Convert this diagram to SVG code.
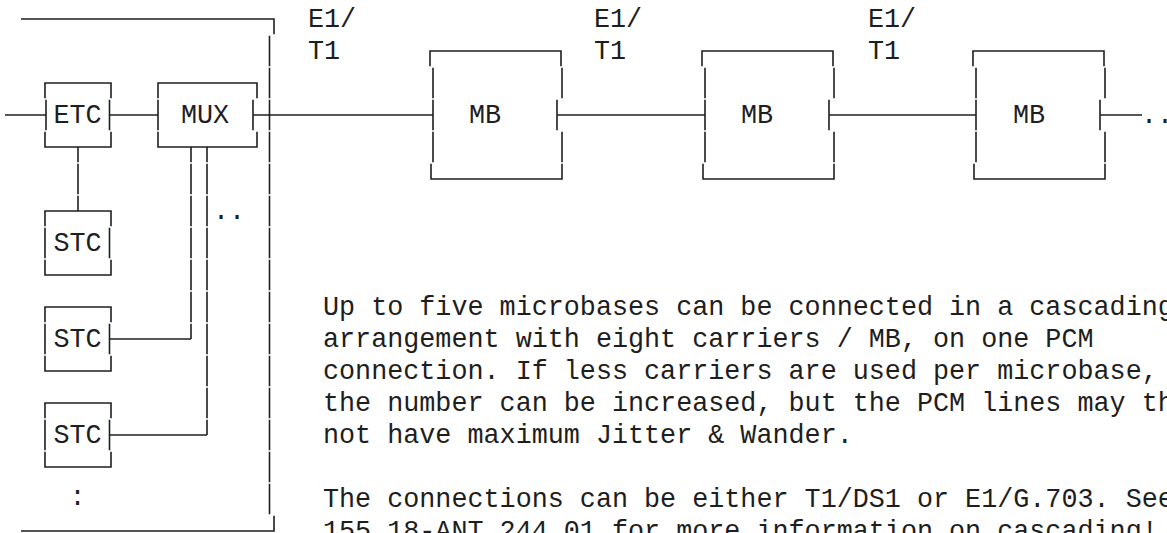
<svg xmlns="http://www.w3.org/2000/svg" width="1167" height="533" viewBox="0 0 1167 533">
<style>
  .ln { fill: none; stroke: #1e1e1e; stroke-width: 1.6; }
  .vc { fill: none; stroke: #1e1e1e; stroke-width: 1.6; stroke-dasharray: 30.5 1.5; stroke-dashoffset: 15.25; }
  .vb { fill: none; stroke: #1e1e1e; stroke-width: 1.6; stroke-dasharray: 30.5 1.5; }
  text { font-family: "Liberation Mono", "Courier New", monospace; font-size: 26.75px; fill: #1e1e1e; }
  .c { text-anchor: middle; }
</style>
<rect x="0" y="0" width="1167" height="533" fill="#ffffff"/>

<g id="enclosure">
  <path class="ln" d="M21,19 H274 V34.25"/>
  <path class="vb" d="M269.5,35.75 V514.25"/>
  <path class="ln" d="M21,531 H274 V515.75"/>
</g>

<g id="node-etc">
  <path class="ln" d="M45,98.25 V83 H111 V98.25"/>
  <path class="ln" d="M46,99.75 V130.25 M109.5,99.75 V130.25"/>
  <path class="ln" d="M45,131.75 V147 H111 V131.75"/>
  <text class="c" x="77.5" y="123">ETC</text>
</g>

<g id="node-mux">
  <path class="ln" d="M158,98.25 V83 H257 V98.25"/>
  <path class="ln" d="M158,99.75 V130.25 M253,99.75 V130.25"/>
  <path class="ln" d="M158,131.75 V147 H257 V131.75"/>
  <text class="c" x="205" y="123">MUX</text>
</g>

<g id="node-stc1">
  <path class="ln" d="M45,226.25 V211 H111 V226.25"/>
  <path class="ln" d="M45,227.75 V258.25 M109.5,227.75 V258.25"/>
  <path class="ln" d="M45,259.75 V275 H111 V259.75"/>
  <text class="c" x="77.5" y="251">STC</text>
</g>

<g id="node-stc2">
  <path class="ln" d="M45,322.25 V307 H111 V322.25"/>
  <path class="ln" d="M45,323.75 V354.25 M109.5,323.75 V354.25"/>
  <path class="ln" d="M45,355.75 V371 H111 V355.75"/>
  <text class="c" x="77.5" y="347">STC</text>
</g>

<g id="node-stc3">
  <path class="ln" d="M45,418.25 V403 H111 V418.25"/>
  <path class="ln" d="M45,419.75 V450.25 M109.5,419.75 V450.25"/>
  <path class="ln" d="M45,451.75 V467 H111 V451.75"/>
  <text class="c" x="77.5" y="443">STC</text>
</g>

<g id="node-mb1">
  <path class="ln" d="M430,66.25 V51 H561 V66.25"/>
  <path class="vb" d="M433,67.75 V162.25"/>
  <path class="ln" d="M562,67.75 V98.25 M557,99.75 V130.25 M562,131.75 V162.25"/>
  <path class="ln" d="M431,163.75 V179 H562 V163.75"/>
  <text class="c" x="485" y="123">MB</text>
</g>

<g id="node-mb2">
  <path class="ln" d="M702,66.25 V51 H833 V66.25"/>
  <path class="vb" d="M705,67.75 V162.25"/>
  <path class="ln" d="M834,67.75 V98.25 M829,99.75 V130.25 M834,131.75 V162.25"/>
  <path class="ln" d="M703,163.75 V179 H834 V163.75"/>
  <text class="c" x="757" y="123">MB</text>
</g>

<g id="node-mb3">
  <path class="ln" d="M973,66.25 V51 H1104 V66.25"/>
  <path class="vb" d="M976,67.75 V162.25"/>
  <path class="ln" d="M1105,67.75 V98.25 M1100,99.75 V130.25 M1105,131.75 V162.25"/>
  <path class="ln" d="M974,163.75 V179 H1105 V163.75"/>
  <text class="c" x="1029" y="123">MB</text>
</g>

<g id="connectors">
  <path class="ln" d="M5,115 H46"/>
  <path class="ln" d="M109.5,115 H158"/>
  <path class="ln" d="M253,115 H433"/>
  <path class="ln" d="M557,115 H705"/>
  <path class="ln" d="M829,115 H976"/>
  <path class="ln" d="M1100,115 H1142"/>
  <path class="vc" d="M78,147 V211"/>
  <path class="vc" d="M191,147 V339"/>
  <path class="ln" d="M109.5,339 H191"/>
  <path class="vc" d="M207,147 V435"/>
  <path class="ln" d="M109.5,435 H207"/>
</g>

<g id="labels">
  <text x="308" y="27">E1/</text>
  <text x="308" y="59">T1</text>
  <text x="594" y="27">E1/</text>
  <text x="594" y="59">T1</text>
  <text x="868" y="27">E1/</text>
  <text x="868" y="59">T1</text>
  <text x="213" y="219">..</text>
  <text class="c" x="77.5" y="505">:</text>
  <text x="1141" y="123">..</text>
</g>

<g id="note">
  <text x="323" y="315">Up to five microbases can be connected in a cascading</text>
  <text x="323" y="347">arrangement with eight carriers / MB, on one PCM</text>
  <text x="323" y="379">connection. If less carriers are used per microbase,</text>
  <text x="323" y="411">the number can be increased, but the PCM lines may th</text>
  <text x="323" y="443">not have maximum Jitter &amp; Wander.</text>
  <text x="323" y="507">The connections can be either T1/DS1 or E1/G.703. See</text>
  <text x="323" y="539">155 18-ANT 244 01 for more information on cascading!</text>
</g>
</svg>
